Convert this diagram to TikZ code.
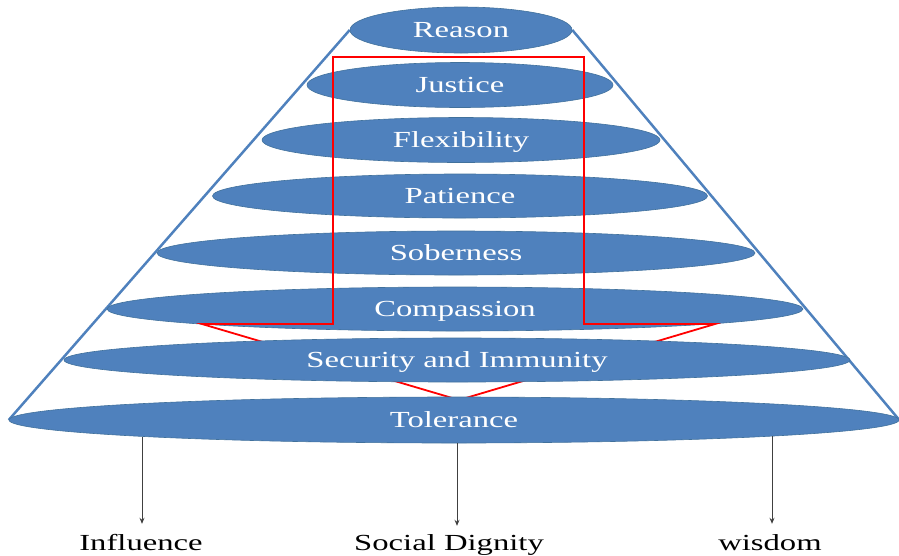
\documentclass[tikz,border=0pt]{standalone}
\usepackage{fontspec}
\setmainfont{Liberation Serif}
\usetikzlibrary{shapes.geometric,arrows.meta,backgrounds}
\definecolor{ellblue}{HTML}{4F81BD}
\definecolor{elledge}{HTML}{41719C}
\definecolor{arrgray}{HTML}{404040}
\newcommand{\sx}[1]{\scalebox{1.42}[1]{#1}}
\tikzset{
  layer/.style={ellipse, fill=ellblue, draw=elledge, line width=0.6pt, inner sep=0pt,
    text=white, font=\fontsize{23}{25}\selectfont, text height=15pt, text depth=0pt},
  lbl/.style={inner sep=0pt, anchor=base, text=black, font=\fontsize{23}{25}\selectfont,
    text height=16pt, text depth=0pt},
  pyr/.style={draw=ellblue, line width=2.5pt},
  redline/.style={draw=red, line width=1.8pt, line join=miter},
  arr/.style={draw=arrgray, line width=1pt, -{Stealth[length=6pt,width=5pt]}}
}
\begin{document}
\begin{tikzpicture}[x=1pt,y=-1pt]
\useasboundingbox (0,0) rectangle (899,555);
\node[layer, minimum width=222pt, minimum height=46pt] (reason) at (461,30) {\sx{Reason}};
\node[layer, minimum width=306pt, minimum height=45pt] (justice) at (460,85) {\sx{Justice}};
\node[layer, minimum width=398pt, minimum height=45pt] (flex) at (461,140) {\sx{Flexibility}};
\node[layer, minimum width=495pt, minimum height=44pt] (pat) at (460,196) {\sx{Patience}};
\node[layer, minimum width=598pt, minimum height=44pt] (sob) at (456,253) {\sx{Soberness}};
\node[layer, minimum width=696pt, minimum height=44pt] (comp) at (455,309) {\sx{Compassion}};
% red outline
\coordinate (vtip) at (459,400);
\draw[redline] (vtip) -- (202,324) -- (333,324) -- (333,57) -- (584,57) -- (584,324) -- (715,324) -- cycle;
\node[layer, minimum width=786pt, minimum height=44pt] (sec) at (457,360) {\sx{Security and Immunity}};
\node[layer, minimum width=890pt, minimum height=46pt] (tol) at (454,420) {\sx{Tolerance}};
% pyramid sides
\begin{scope}[on background layer]
\draw[pyr] (reason.west) -- (tol.west);
\draw[pyr] (reason.east) -- (tol.east);
\end{scope}
% labels
\node[lbl] (inf) at (141,550) {\sx{Influence}};
\node[lbl] (sd) at (449,550) {\sx{Social Dignity}};
\node[lbl] (wis) at (770,550) {\sx{wisdom}};
\coordinate (t1) at (142,437);
\coordinate (t2) at (457,443);
\coordinate (t3) at (772,436);
\draw[arr, shorten >=10pt] (t1) -- (t1 |- inf.north);
\draw[arr, shorten >=8pt] (t2) -- (t2 |- sd.north);
\draw[arr, shorten >=10pt] (t3) -- (t3 |- wis.north);
\end{tikzpicture}
\end{document}
